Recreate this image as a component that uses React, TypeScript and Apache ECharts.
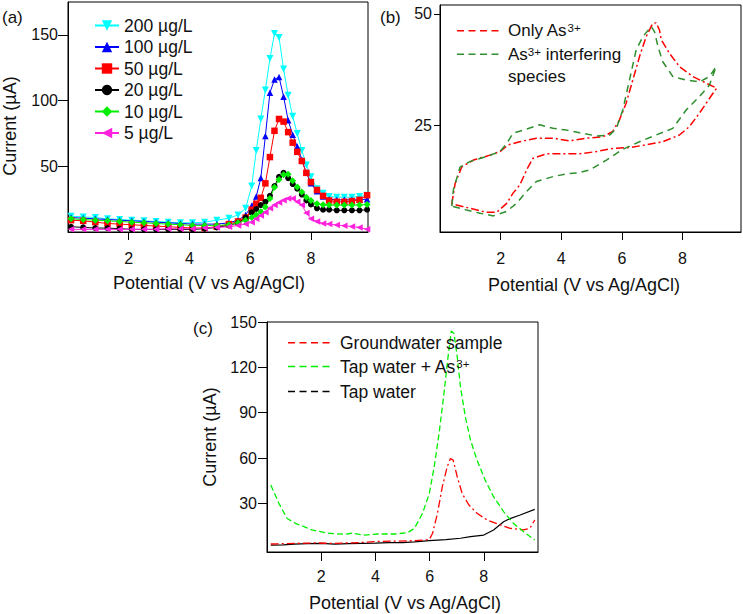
import React, { useEffect, useRef } from "react";
import * as echarts from "echarts";

const FONT = "Liberation Sans";

// ---------- Panel (a): DPV curves ----------
const XA = [0.1, 0.5, 0.9, 1.3, 1.7, 2.1, 2.5, 2.9, 3.3, 3.7, 4.1, 4.5, 4.9, 5.3, 5.6, 5.85, 6.05, 6.2, 6.35, 6.5, 6.65, 6.8, 6.95, 7.1, 7.25, 7.4, 7.55, 7.7, 7.85, 8.0, 8.2, 8.4, 8.6, 8.85, 9.1, 9.35, 9.6, 9.85];
const A200 = [12, 11.5, 11, 10, 9.5, 9, 8.5, 8, 7.5, 7, 7, 7.5, 9, 10.5, 13, 18, 35, 62, 86, 108, 132, 151, 148, 124, 104, 88, 75, 62, 51, 42, 33, 29.5, 27, 26.5, 26.5, 26.5, 27, 28];
const A100 = [11, 10.5, 10, 9.5, 9, 8.5, 8, 7.5, 7, 6.5, 6, 6, 6, 7, 9, 13, 20, 27, 41, 73, 106, 116, 118, 103, 85, 74, 65, 55, 45, 37, 31, 27, 25, 24.5, 24.5, 24.5, 24.5, 25];
const A50 = [9, 8.5, 7.5, 6.5, 6, 5.5, 5, 4.5, 4, 3.5, 3, 3, 4, 6, 8, 11, 17, 21.5, 26, 37, 57, 77, 86, 84, 76, 68, 61, 54, 45, 38, 32, 27.5, 24, 23, 23, 23.5, 24.5, 28];
const A20 = [4, 3.5, 3, 3, 2.5, 2, 2, 2, 2, 2, 2, 2.5, 3.5, 5, 7, 11, 15, 17.5, 20.5, 23, 27.5, 35, 42, 45, 41, 36.5, 33, 28.5, 24, 21, 18, 17, 17, 16.5, 16.5, 16.5, 16.5, 17];
const A10 = [10, 9.5, 9, 8.5, 8, 7.5, 7, 6.5, 6, 5.5, 5, 5, 5, 5.5, 7, 9, 11, 13, 15.5, 19, 25.5, 34, 40, 43.5, 44, 39, 34.3, 30.5, 26.5, 24, 21.5, 20.8, 20.5, 20.5, 20.5, 20.5, 20.5, 21];
const A5 = [2, 2, 2, 2, 2, 2, 2, 2, 2.5, 2.5, 2.5, 3, 3.5, 4, 5, 6, 7.5, 10, 12.5, 15, 18, 20.5, 22.5, 24.2, 25.5, 25.5, 23, 20.5, 14.5, 10, 8, 6.5, 6, 5.3, 4.8, 4.2, 3.5, 2];
const A_NAMES = ["200 µg/L", "100 µg/L", "50 µg/L", "20 µg/L", "10 µg/L", "5 µg/L"];

// ---------- Panel (b): CV loops [potential, current] ----------
const B_ONLY_AS = [[0.39, 7.5], [0.45, 10], [0.5, 12.1], [0.72, 15.8], [1.1, 17.3], [1.65, 18.4], [1.98, 19.2], [2.25, 20.7], [2.63, 21.4], [3.18, 22.2], [3.73, 22.2], [4.28, 21.6], [4.83, 22.2], [5.38, 22.5], [5.7, 23.7], [5.92, 26.3], [6.14, 30], [6.36, 35.2], [6.58, 40.4], [6.8, 44.9], [7.02, 47.9], [7.13, 48], [7.24, 46.4], [7.3, 44.2], [7.57, 41.2], [7.9, 38.2], [8.34, 36], [8.78, 34.5], [9.13, 33.4], [9.0, 32.2], [8.56, 27.8], [8.23, 24.8], [7.9, 22.9], [7.35, 21.4], [6.8, 20.7], [6.25, 20.1], [5.7, 19.9], [5.16, 19.2], [4.61, 18.7], [4.06, 18.7], [3.51, 18.7], [3.07, 17.7], [2.91, 15.8], [2.63, 11.7], [2.41, 9.9], [2.2, 7.6], [1.87, 5.6], [1.54, 5.6], [0.99, 6.5], [0.39, 7.5]];
const B_INTERF = [[0.39, 7.0], [0.44, 10.6], [0.66, 15.7], [1.0, 17], [1.5, 18], [1.98, 19.2], [2.2, 21], [2.41, 23.3], [2.74, 24], [3.29, 25.2], [3.73, 24.4], [4.17, 24], [4.61, 23.4], [5.16, 22.7], [5.6, 22.9], [5.82, 24.4], [6.03, 28.5], [6.25, 35.2], [6.47, 41.9], [6.69, 44.9], [6.97, 47.2], [7.08, 46], [7.19, 42.7], [7.35, 39.3], [7.68, 36], [8.12, 35.2], [8.56, 34.8], [8.89, 36], [9.11, 38.2], [8.89, 34.1], [8.56, 31.5], [8.12, 28.5], [7.68, 24.4], [7.13, 22.9], [6.58, 21.4], [6.03, 19.7], [5.49, 17.3], [4.94, 15.1], [4.61, 14.5], [4.17, 14.2], [3.73, 13.6], [3.18, 12.5], [2.85, 10.2], [2.52, 7.6], [2.2, 5.8], [1.76, 4.8], [1.32, 5.4], [0.88, 6.1], [0.39, 7.0]];

// ---------- Panel (c): real samples [potential, current] ----------
const C_GROUND = [[0.14, 3.1], [0.6, 3.3], [1.2, 3.6], [1.8, 3.8], [2.4, 3.5], [3.0, 3.8], [3.6, 4.2], [4.1, 4.8], [4.8, 5.0], [5.44, 5.3], [5.99, 6.0], [6.11, 10.2], [6.29, 23.4], [6.47, 41], [6.65, 54.2], [6.77, 59.7], [6.87, 58.6], [7.02, 47.6], [7.2, 36.6], [7.45, 28.9], [7.75, 23.4], [8.12, 19], [8.6, 15.7], [8.97, 13.5], [9.46, 12.4], [9.7, 13.5], [9.88, 19]];
const C_TAP_AS = [[0.14, 42.1], [0.44, 30], [0.74, 20], [1.05, 16.8], [1.66, 12.4], [2.27, 10.2], [2.88, 9.5], [3.12, 10.2], [3.61, 9.0], [4.1, 9.7], [4.71, 9.7], [5.19, 10.6], [5.44, 13.5], [5.74, 23.4], [5.99, 36.6], [6.17, 54.2], [6.35, 76.3], [6.53, 102.7], [6.68, 126.9], [6.8, 144], [6.9, 142.4], [7.02, 126.9], [7.14, 107], [7.32, 87.2], [7.51, 71.8], [7.75, 58.6], [8.05, 45.4], [8.36, 34.4], [8.73, 24.5], [9.09, 16.8], [9.46, 11.3], [9.88, 5.7]];
const C_TAP = [[0.14, 2.4], [0.6, 2.5], [1.0, 3.0], [1.5, 3.3], [2.0, 3.5], [2.5, 3.0], [3.0, 3.3], [3.5, 3.5], [4.0, 3.7], [4.5, 4.0], [5.0, 4.0], [5.44, 4.5], [5.99, 5.3], [6.6, 6.0], [7.14, 6.9], [7.51, 8.0], [8.0, 9.0], [8.36, 12.4], [8.73, 17.8], [8.97, 19.9], [9.34, 22.3], [9.88, 26]];

const X_TICKS = [2, 4, 6, 8];
const A_Y_TICKS = [50, 100, 150];
const B_Y_TICKS = [25, 50];
const C_Y_TICKS = [30, 60, 90, 120, 150];

const zip = (xs: number[], ys: number[]) => xs.map((x, i) => [x, ys[i]]);

function xAxis(grid: number, min: number, max: number, ticks: number[], margin: number, tickLen: number) {
  return {
    type: "value", gridIndex: grid, min, max,
    axisLine: { show: true, onZero: false, lineStyle: { color: "#000", width: 1 } },
    axisTick: { show: true, inside: false, length: tickLen, customValues: ticks, lineStyle: { color: "#000", width: 1 } },
    axisLabel: { show: true, customValues: ticks, margin, color: "#111", fontSize: 16, fontFamily: FONT },
    splitLine: { show: false },
  };
}
function yAxis(grid: number, min: number, max: number, ticks: number[], margin: number, tickLen: number) {
  return {
    type: "value", gridIndex: grid, min, max,
    axisLine: { show: true, onZero: false, lineStyle: { color: "#000", width: 1 } },
    axisTick: { show: true, inside: false, length: tickLen, customValues: ticks, lineStyle: { color: "#000", width: 1 } },
    axisLabel: { show: true, customValues: ticks, margin, color: "#111", fontSize: 16, fontFamily: FONT },
    splitLine: { show: false },
  };
}

function text(t: string, x: number, y: number, opts: any = {}) {
  const align = opts.align || "left";
  return {
    type: "text", x, y, rotation: opts.rotation || 0, z: 100,
    style: {
      text: t, fontSize: opts.fontSize || 17, fontFamily: FONT, fill: "#111",
      align, textAlign: align, verticalAlign: "middle", textVerticalAlign: "middle",
      rich: {
        sup: { fontSize: 11.5, fontFamily: FONT, fill: "#111", verticalAlign: "top", lineHeight: 11 },
      },
    },
  };
}
function dashLine(x1: number, x2: number, y: number, color: string, dash: number[]) {
  return {
    type: "line", z: 100,
    shape: { x1, y1: y, x2, y2: y },
    style: { stroke: color, lineWidth: 1.5, lineDash: dash },
  };
}

export default function App() {
  const ref = useRef<HTMLDivElement>(null);
  useEffect(() => {
    if (!ref.current) return;
    const chart = echarts.init(ref.current, undefined, { renderer: "svg" });
    const aSeries = [
      { data: A200, color: "#00ffff", symbol: "triangle", rot: 180, size: 7 },
      { data: A100, color: "#0000ff", symbol: "triangle", rot: 0, size: 6.5 },
      { data: A50, color: "#ff0000", symbol: "rect", rot: 0, size: 6.5 },
      { data: A20, color: "#000000", symbol: "circle", rot: 0, size: 6 },
      { data: A10, color: "#00ee00", symbol: "diamond", rot: 0, size: 7 },
      { data: A5, color: "#ff22dd", symbol: "triangle", rot: 90, size: 6.5 },
    ].map((s, i) => ({
      type: "line", name: A_NAMES[i], xAxisIndex: 0, yAxisIndex: 0,
      data: zip(XA, s.data), symbol: s.symbol, symbolRotate: s.rot, symbolSize: s.size,
      showSymbol: true, lineStyle: { color: s.color, width: 1 }, itemStyle: { color: s.color },
    }));

    const option: any = {
      animation: false,
      backgroundColor: "#fff",
      textStyle: { fontFamily: FONT },
      grid: [
        { left: 68, top: 2, width: 300, height: 230, show: true, borderColor: "#000", borderWidth: 1 },
        { left: 440, top: 5, width: 301, height: 227, show: true, borderColor: "#000", borderWidth: 1 },
        { left: 267, top: 322, width: 271, height: 230, show: true, borderColor: "#000", borderWidth: 1 },
      ],
      xAxis: [
        xAxis(0, 0, 9.88, X_TICKS, 18, 8),
        xAxis(1, 0, 9.93, X_TICKS, 18, 8),
        xAxis(2, 0, 10, X_TICKS, 16, 9),
      ],
      yAxis: [
        yAxis(0, 0, 175, A_Y_TICKS, 10, 10),
        yAxis(1, 1.2, 52, B_Y_TICKS, 8, 6),
        yAxis(2, -2.2, 150, C_Y_TICKS, 10, 9),
      ],
      legend: [{
        data: A_NAMES, orient: "vertical", left: 94, top: 16.5, padding: 0,
        itemWidth: 24, itemHeight: 13, itemGap: 3.5,
        textStyle: { fontSize: 17.5, fontFamily: FONT, color: "#111" },
      }],
      series: [
        ...aSeries,
        {
          type: "line", name: "Only As3+", xAxisIndex: 1, yAxisIndex: 1, data: B_ONLY_AS,
          symbol: "none", lineStyle: { color: "#ff0000", width: 1.5, type: [8, 3, 2, 3] },
        },
        {
          type: "line", name: "As3+ interfering species", xAxisIndex: 1, yAxisIndex: 1, data: B_INTERF,
          symbol: "none", lineStyle: { color: "#2f8f2f", width: 1.5, type: [7, 5] },
        },
        {
          type: "line", name: "Tap water", xAxisIndex: 2, yAxisIndex: 2, data: C_TAP,
          symbol: "none", lineStyle: { color: "#000", width: 1.2, type: "solid" },
        },
        {
          type: "line", name: "Groundwater sample", xAxisIndex: 2, yAxisIndex: 2, data: C_GROUND,
          symbol: "none", lineStyle: { color: "#ff0000", width: 1.3, type: [8, 3, 2, 3] },
        },
        {
          type: "line", name: "Tap water + As3+", xAxisIndex: 2, yAxisIndex: 2, data: C_TAP_AS,
          symbol: "none", lineStyle: { color: "#00ee00", width: 1.3, type: [6, 3] },
        },
      ],
      graphic: [
        text("(a)", 2, 17),
        text("(b)", 380, 17),
        text("(c)", 193, 328),
        text("Potential (V vs Ag/AgCl)", 209, 283, { align: "center", fontSize: 18 }),
        text("Current (µA)", 10, 126, { align: "center", rotation: Math.PI / 2, fontSize: 18 }),
        text("Potential (V vs Ag/AgCl)", 584, 285, { align: "center", fontSize: 18 }),
        text("Potential (V vs Ag/AgCl)", 405, 603, { align: "center", fontSize: 18 }),
        text("Current (µA)", 210, 437, { align: "center", rotation: Math.PI / 2, fontSize: 18 }),
        dashLine(457, 500, 30.7, "#ff0000", [7, 4.5]),
        text("Only As{sup|3+}", 508, 30.7),
        dashLine(457, 500, 54.3, "#2f8f2f", [7, 4.5]),
        text("As{sup|3+} interfering", 508, 54.3),
        text("species", 508, 76.7),
        dashLine(288, 332, 342.7, "#ff0000", [7, 4.5]),
        text("Groundwater sample", 340, 342.7, { fontSize: 17.5 }),
        dashLine(288, 332, 366.5, "#00ee00", [7, 4.5]),
        text("Tap water + As{sup|3+}", 340, 366.5, { fontSize: 17.5 }),
        dashLine(288, 332, 391.5, "#000000", [7, 4.5]),
        text("Tap water", 340, 391.5, { fontSize: 17.5 }),
      ],
    };
    chart.setOption(option);
    return () => chart.dispose();
  }, []);
  return (
    <div
      ref={ref}
      style={{ position: "fixed", left: 0, top: 0, width: 743, height: 614, background: "#fff" }}
    />
  );
}
